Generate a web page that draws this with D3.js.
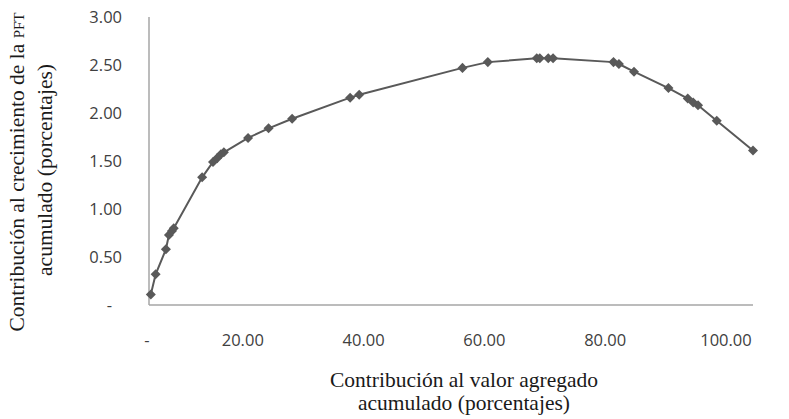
<!DOCTYPE html>
<html>
<head>
<meta charset="utf-8">
<script src="https://cdn.jsdelivr.net/npm/d3@7"></script>
<style>
  body { margin: 0; background: #fff; }
  svg { display: block; }
</style>
</head>
<body>
<svg width="789" height="419"></svg>
<script>
// valores
const valorAgregado = [0.3, 1.1, 2.8, 3.3, 3.8, 4.1, 8.8, 10.6, 11.3, 11.9, 12.4, 16.4, 19.8, 23.7,
  33.3, 34.8, 51.9, 56.1, 64.2, 64.7, 66.1, 66.9, 76.9, 77.8, 80.3, 86.0, 89.2, 90.1, 90.9, 94.0, 100.0];
const crecimientoPFT = [0.11, 0.32, 0.58, 0.73, 0.77, 0.80, 1.33, 1.49, 1.53, 1.57, 1.59, 1.74, 1.84, 1.94,
  2.16, 2.19, 2.47, 2.53, 2.57, 2.57, 2.57, 2.57, 2.53, 2.51, 2.43, 2.26, 2.15, 2.11, 2.08, 1.92, 1.61];

const ticksX = [0, 20, 40, 60, 80, 100];
const ticksY = [0, 0.5, 1, 1.5, 2, 2.5, 3];
const fmt = v => v === 0 ? "-" : v.toFixed(2);

const puntos = valorAgregado.map((x, i) => ({x: x, y: crecimientoPFT[i]}));

const svg = d3.select("svg");
const colorSerie = "#595959";
const colorEje = "#a6a6a6";
const fuenteNum = "'Open Sans', sans-serif";
const fuenteTitulo = "'Liberation Serif', 'Times New Roman', serif";

const xScale = d3.scaleLinear().domain([0, 100]).range([149, 753]);
const yScale = d3.scaleLinear().domain([0, 3]).range([305, 17]);

// ejes
svg.append("line")
    .attr("x1", xScale(0)).attr("x2", xScale(0))
    .attr("y1", yScale(3)).attr("y2", yScale(0))
    .attr("stroke", colorEje).attr("stroke-width", 1.5);

svg.append("line")
    .attr("x1", xScale(0)).attr("x2", xScale(100))
    .attr("y1", yScale(0)).attr("y2", yScale(0))
    .attr("stroke", colorEje).attr("stroke-width", 1.5);

// etiquetas eje Y
svg.append("g")
    .selectAll("text")
    .data(ticksY)
    .enter()
    .append("text")
    .attr("x", d => d === 0 ? 112 : 122)
    .attr("y", d => yScale(d))
    .attr("dy", "0.36em")
    .attr("text-anchor", "end")
    .attr("font-family", fuenteNum)
    .attr("font-size", 16.5)
    .attr("fill", "#404040")
    .text(fmt);

// etiquetas eje X (en el original están corridas a la izquierda)
svg.append("g")
    .selectAll("text")
    .data(ticksX)
    .enter()
    .append("text")
    .attr("x", d => d === 0 ? xScale(d) - 2 : xScale(d) - 27)
    .attr("y", 346)
    .attr("text-anchor", "middle")
    .attr("font-family", fuenteNum)
    .attr("font-size", 16.5)
    .attr("fill", "#404040")
    .text(fmt);

// línea
const linea = d3.line().x(d => xScale(d.x)).y(d => yScale(d.y));
svg.append("path")
    .datum(puntos)
    .attr("d", linea)
    .attr("fill", "none")
    .attr("stroke", colorSerie)
    .attr("stroke-width", 2);

// marcadores rombo
const tipoRombo = d3.symbolDiamond2 || d3.symbolDiamond;
svg.append("g")
    .selectAll("path")
    .data(puntos)
    .enter()
    .append("path")
    .attr("d", d3.symbol().type(tipoRombo).size(64))
    .attr("transform", d => `translate(${xScale(d.x)},${yScale(d.y)})`)
    .attr("fill", colorSerie);

// título eje X
const tituloX = svg.append("text")
    .attr("text-anchor", "middle")
    .attr("font-family", fuenteTitulo)
    .attr("font-size", 21.5)
    .attr("fill", "#1a1a1a");
tituloX.append("tspan").attr("x", 464).attr("y", 387).text("Contribución al valor agregado");
tituloX.append("tspan").attr("x", 464).attr("y", 410).text("acumulado (porcentajes)");

// título eje Y
const tituloY = svg.append("text")
    .attr("transform", "rotate(-90)")
    .attr("text-anchor", "middle")
    .attr("font-family", fuenteTitulo)
    .attr("font-size", 21.5)
    .attr("fill", "#1a1a1a");
const l1 = tituloY.append("tspan").attr("x", -172).attr("y", 24);
l1.append("tspan").text("Contribución al crecimiento de la ");
l1.append("tspan").attr("font-size", 15).text("PFT");
tituloY.append("tspan").attr("x", -170).attr("y", 52).text("acumulado (porcentajes)");
</script>
</body>
</html>
